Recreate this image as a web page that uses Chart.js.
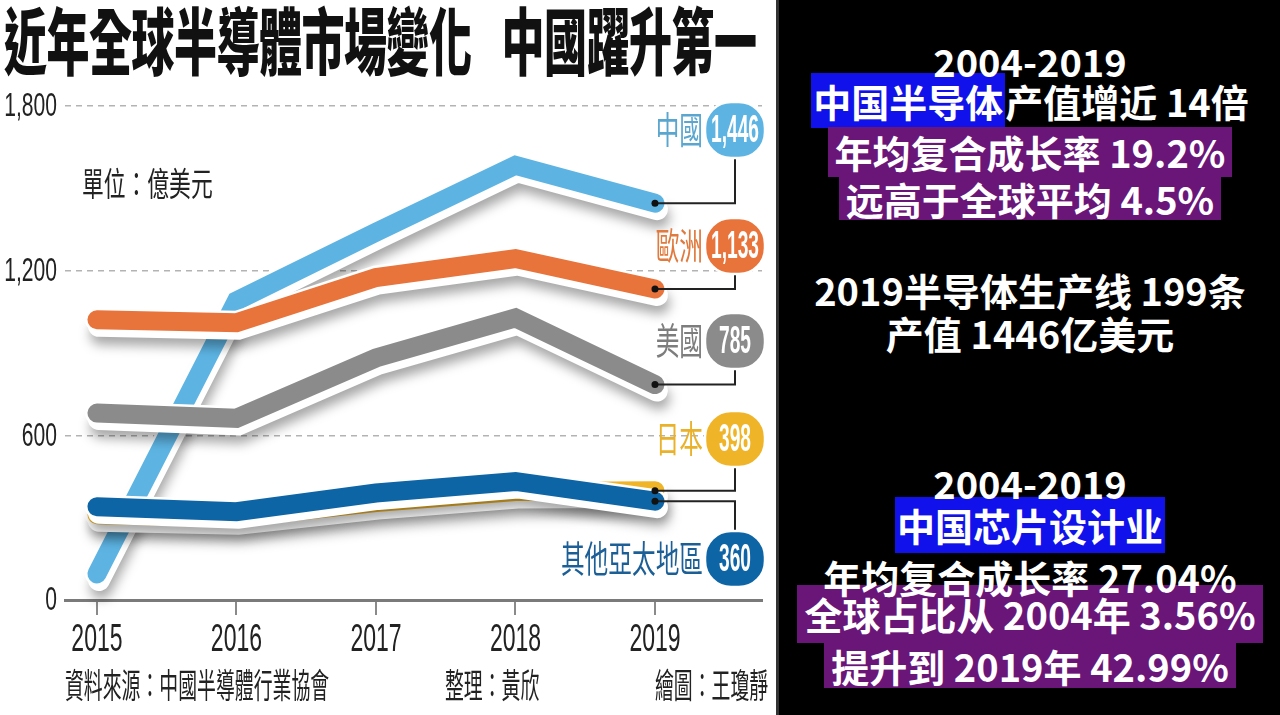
<!DOCTYPE html>
<html>
<head>
<meta charset="utf-8">
<script src="https://cdn.jsdelivr.net/npm/chart.js@4"></script>
<style>
body { margin: 0; width: 1280px; height: 715px; background: #000; overflow: hidden; position: relative; font-family: 'Noto Sans CJK TC', sans-serif; }
#left { position: absolute; left: 0; top: 0; width: 776px; height: 715px; background: #fff; border-right: 3px solid #333; }
#chart { position: absolute; left: 0; top: 0; }
.title { position: absolute; left: 4px; top: 1px; font-size: 43px; font-weight: 900; color: #111; line-height: 1; white-space: nowrap; transform: scaleY(1.7); transform-origin: 0 0; letter-spacing: -0.5px; }
.title span { margin-left: 30px; }
.cond { position: absolute; white-space: nowrap; line-height: 1; color: #222; transform-origin: 0 50%; }
#right { position: absolute; left: 780px; top: 0; width: 500px; height: 715px; font-family: 'Noto Sans CJK SC', sans-serif; font-weight: 700; font-size: 38px; color: #fff; }
.ln { position: absolute; left: 0; width: 500px; text-align: center; white-space: nowrap; }
.ln.top { z-index: 2; }
.ln span { display: inline-block; vertical-align: top; }
.b { background: #1111ec; padding: 0 2px; }
.p { background: #6a1679; padding: 0 7px; }
</style>
</head>
<body>
<div id="left">
  <canvas id="chart" width="776" height="715"></canvas>
  <div class="title">近年全球半導體市場變化<span>中國躍升第一</span></div>
  <div class="cond" style="left:82px;top:166px;font-size:33px;transform:scaleX(0.66);">單位：億美元</div>
  <div class="cond" style="left:65px;top:667px;font-size:34px;transform:scaleX(0.555);">資料來源：中國半導體行業協會</div>
  <div class="cond" style="left:445px;top:667px;font-size:34px;transform:scaleX(0.555);">整理：黃欣</div>
  <div class="cond" style="left:655px;top:667px;font-size:34px;transform:scaleX(0.555);">繪圖：王瓊靜</div>
</div>
<div id="right">
  <div class="ln top" style="top:36px;height:50px;line-height:50px;">2004-2019</div>
  <div class="ln" style="top:73px;height:55px;line-height:55px;"><span class="b" style="height:55px;line-height:55px;">中国半导体</span>产值增近 14倍</div>
  <div class="ln" style="top:127px;height:50px;line-height:50px;"><span class="p" style="height:50px;line-height:50px;">年均复合成长率 19.2%</span></div>
  <div class="ln" style="top:177px;height:43px;line-height:43px;"><span class="p" style="height:43px;line-height:43px;">远高于全球平均 4.5%</span></div>
  <div class="ln" style="top:265px;height:50px;line-height:50px;">2019半导体生产线 199条</div>
  <div class="ln" style="top:308px;height:50px;line-height:50px;">产值 1446亿美元</div>
  <div class="ln top" style="top:458px;height:50px;line-height:50px;">2004-2019</div>
  <div class="ln" style="top:497px;height:56px;line-height:56px;"><span class="b" style="height:56px;line-height:56px;">中国芯片设计业</span></div>
  <div class="ln top" style="top:552px;height:50px;line-height:50px;">年均复合成长率 27.04%</div>
  <div class="ln" style="top:585px;height:58px;line-height:58px;"><span class="p" style="height:58px;line-height:58px;">全球占比从 2004年 3.56%</span></div>
  <div class="ln" style="top:643px;height:45px;line-height:45px;"><span class="p" style="height:45px;line-height:45px;">提升到 2019年 42.99%</span></div>
</div>
<script>
// 數據 (億美元)
const years = [2015, 2016, 2017, 2018, 2019];
const yTicks = [0, 600, 1200, 1800];
const china = [95, 1090, 1340, 1584, 1446];
const europe = [1021, 1010, 1175, 1244, 1133];
const usa = [681, 662, 882, 1028, 785];
const japan = [311, 300, 355, 395, 398];
const others = [340, 322, 390, 432, 360];

// 右側標籤位置
const pillX = 735;
const tags = {
    '中國': { cy: 130, color: '#5db4e3', text: '#5aa6cf' },
    '歐洲': { cy: 246, color: '#e8733b', text: '#e07a3e' },
    '美國': { cy: 341, color: '#8b8b8b', text: '#7d7d7d' },
    '日本': { cy: 439, color: '#f0b428', text: '#e9b22a' },
    '其他亞太地區': { cy: 559, color: '#0e65a6', text: '#1b5f96' }
};

function condText(ctx, str, x, y, o) {
    ctx.save();
    ctx.translate(x, y);
    ctx.scale(o.sx || 1, o.sy || 1);
    ctx.font = o.font;
    ctx.fillStyle = o.color;
    ctx.textAlign = o.align || 'left';
    ctx.textBaseline = 'middle';
    ctx.fillText(str, 0, 0);
    ctx.restore();
}

function series(label, values) {
    return {
        label: label,
        data: years.map((x, i) => ({ x: x, y: values[i] })),
        borderColor: tags[label].color,
        borderWidth: 19,
        borderCapStyle: 'round',
        borderJoinStyle: 'miter',
        pointRadius: 0,
        tension: 0,
        clip: false
    };
}

// 白邊 + 陰影
const ribbon = {
    id: 'ribbon',
    beforeDatasetDraw(chart, args) {
        const pts = args.meta.data;
        const ctx = chart.ctx;
        const path = () => {
            ctx.beginPath();
            pts.forEach((p, i) => i ? ctx.lineTo(p.x, p.y) : ctx.moveTo(p.x, p.y));
        };
        ctx.save();
        ctx.lineCap = 'round';
        ctx.lineJoin = 'miter';
        ctx.translate(2, 6);
        ctx.shadowColor = 'rgba(0,0,0,0.35)';
        ctx.shadowBlur = 12;
        ctx.shadowOffsetX = 2;
        ctx.shadowOffsetY = 8;
        ctx.strokeStyle = '#fff';
        ctx.lineWidth = 22;
        path();
        ctx.stroke();
        ctx.restore();
        ctx.save();
        ctx.lineCap = 'round';
        ctx.lineJoin = 'miter';
        ctx.strokeStyle = '#fff';
        ctx.lineWidth = 24;
        path();
        ctx.stroke();
        ctx.restore();
    },
    afterDatasetsDraw(chart) {
        const ctx = chart.ctx;
        const last = years.length - 1;
        chart.data.datasets.forEach((ds, i) => {
            const tag = tags[ds.label];
            const p = chart.getDatasetMeta(i).data[last];
            const edge = tag.cy < p.y ? tag.cy + 28 : tag.cy - 28;
            ctx.save();
            ctx.strokeStyle = '#222';
            ctx.lineWidth = 2;
            ctx.beginPath();
            ctx.moveTo(p.x, p.y);
            ctx.lineTo(pillX, p.y);
            ctx.lineTo(pillX, edge);
            ctx.stroke();
            ctx.fillStyle = '#111';
            ctx.beginPath();
            ctx.arc(p.x, p.y, 3.5, 0, Math.PI * 2);
            ctx.fill();
            ctx.beginPath();
            ctx.roundRect(pillX - 30, tag.cy - 28, 60, 56, 26);
            ctx.fillStyle = tag.color;
            ctx.fill();
            ctx.lineWidth = 2.5;
            ctx.strokeStyle = '#fff';
            ctx.stroke();
            ctx.restore();
            condText(ctx, ds.data[last].y.toLocaleString('en-US'), pillX, tag.cy + 1,
                { font: 'bold 30px "Liberation Sans"', sx: 0.64, sy: 1.3, color: '#fff', align: 'center' });
            condText(ctx, ds.label, 703, tag.cy,
                { font: '37px "Noto Sans CJK TC"', sx: 0.64, color: tag.text, align: 'right' });
        });
    },
    afterDraw(chart) {
        const ctx = chart.ctx;
        const { x, y } = chart.scales;
        yTicks.forEach(v => {
            condText(ctx, v.toLocaleString('en-US'), 57, y.getPixelForValue(v) + 1,
                { font: '34px "Liberation Sans"', sx: 0.62, color: '#222', align: 'right' });
        });
        years.forEach(v => {
            condText(ctx, String(v), x.getPixelForValue(v), 640,
                { font: '39px "Liberation Sans"', sx: 0.59, color: '#222', align: 'center' });
        });
    }
};

new Chart(document.getElementById('chart').getContext('2d'), {
    type: 'line',
    data: {
        datasets: [
            series('歐洲', europe),
            series('美國', usa),
            series('其他亞太地區', others),
            series('日本', japan),
            series('中國', china)
        ]
    },
    options: {
        responsive: false,
        animation: false,
        layout: { padding: { top: 106, right: 14, bottom: 95, left: 0 } },
        plugins: { legend: { display: false }, tooltip: { enabled: false } },
        scales: {
            x: {
                type: 'linear',
                min: 2014.771,
                max: 2019.767,
                afterBuildTicks: s => { s.ticks = years.map(v => ({ value: v })); },
                afterFit: s => { s.height = 20; },
                ticks: { display: false },
                grid: { drawOnChartArea: false, drawTicks: true, tickLength: 15, color: '#8a8a8a', lineWidth: 2 },
                border: { display: true, color: '#7a7a7a', width: 3 }
            },
            y: {
                min: 0,
                max: 1800,
                afterBuildTicks: s => { s.ticks = yTicks.map(v => ({ value: v })); },
                afterFit: s => { s.width = 65; },
                ticks: { display: false },
                grid: {
                    drawTicks: false,
                    lineWidth: 1.5,
                    color: c => c.tick && c.tick.value === 0 ? 'rgba(0,0,0,0)' : '#b3b3b3'
                },
                border: { display: false, dash: [6, 5] }
            }
        }
    },
    plugins: [ribbon]
});
</script>
</body>
</html>
